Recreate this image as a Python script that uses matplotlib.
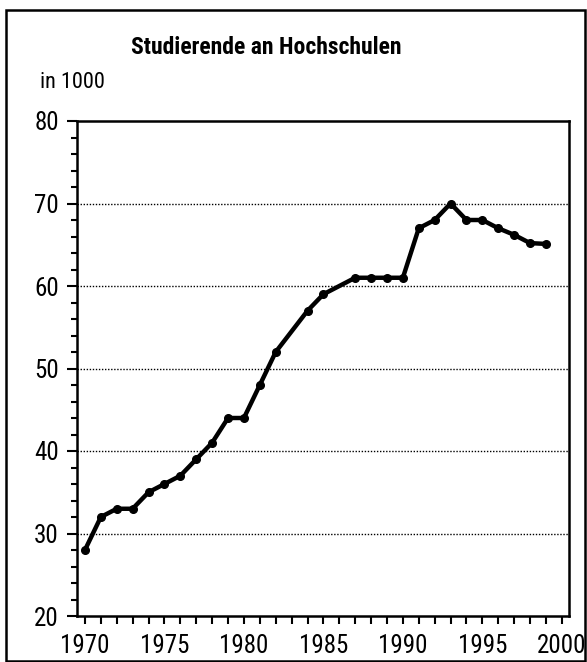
import matplotlib
matplotlib.use("Agg")
import matplotlib.pyplot as plt
from matplotlib import font_manager
from matplotlib.patches import Rectangle
from matplotlib.ticker import MultipleLocator

names = {f.name for f in font_manager.fontManager.ttflist}
fam = 'DejaVu Sans'
for cand in ['Liberation Sans Narrow', 'Roboto Condensed', 'Archivo Narrow', 'Sofia Sans Condensed', 'Liberation Sans']:
    if cand in names:
        fam = cand
        break
plt.rcParams['font.family'] = [fam, 'DejaVu Sans']

years = [1970, 1971, 1972, 1973, 1974, 1975, 1976, 1977, 1978, 1979, 1980, 1981, 1982,
         1984, 1985, 1987, 1988, 1989, 1990, 1991, 1992, 1993, 1994, 1995, 1996, 1997, 1998, 1999]
students = [28, 32, 33, 33, 35, 36, 37, 39, 41, 44, 44, 48, 52,
            57, 59, 61, 61, 61, 61, 67, 68, 70, 68, 68, 67, 66.2, 65.2, 65.1]
x_ticklabels = [1970, 1975, 1980, 1985, 1990, 1995, 2000]
y_ticks = [20, 30, 40, 50, 60, 70, 80]
title = "Studierende an Hochschulen"
unit = "in 1000"

fig = plt.figure(figsize=(5.87, 6.62), dpi=100)
W, H = 587, 662
ax = fig.add_axes([77 / W, 1 - 616 / H, (569 - 77) / W, (616 - 121) / H])

ax.plot(years, students, color='black', lw=3.2, marker='o', ms=5.5, solid_joinstyle='round', zorder=3)
ax.set_xlim(1969.5, 2000.45)
ax.set_ylim(20, 80)

ax.set_xticks(x_ticklabels)
ax.xaxis.set_minor_locator(MultipleLocator(1))
ax.set_yticks(y_ticks)
ax.yaxis.set_minor_locator(MultipleLocator(2))
ax.tick_params(axis='x', which='both', direction='out', length=6, width=1.5, labelsize=18, pad=7)
ax.tick_params(axis='y', which='major', direction='out', length=7, width=1.5, labelsize=18, pad=6)
ax.tick_params(axis='y', which='minor', direction='out', length=4, width=1.5)
for s in ax.spines.values():
    s.set_linewidth(1.8)

for y in y_ticks[1:-1]:
    ax.axhline(y, color='black', lw=1.0, ls=(0, (1, 1.2)), zorder=1)

fig.text(266 / W, 1 - 47 / H, title, ha='center', va='center', fontsize=17, fontweight='bold')
fig.text(40 / W, 1 - 82 / H, unit, ha='left', va='center', fontsize=16)

fig.add_artist(Rectangle((6 / W, 1 / H), (585 - 6) / W, (651) / H, transform=fig.transFigure,
                         fill=False, ec='black', lw=1.8))

fig.savefig("out.png", dpi=100)
